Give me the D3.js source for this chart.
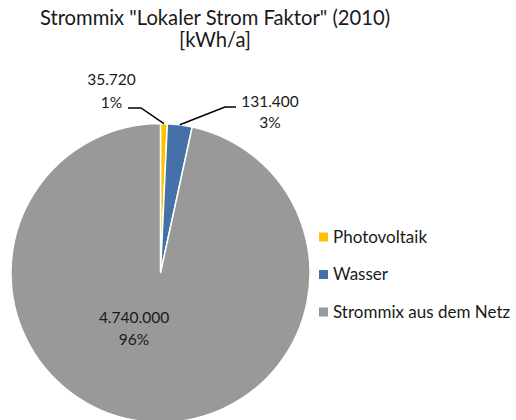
<!DOCTYPE html>
<html>
<head>
<meta charset="utf-8">
<script src="https://cdn.jsdelivr.net/npm/d3@7"></script>
<style>
  body { margin: 0; background: #fff; }
  text { font-family: Lato, "Open Sans", sans-serif; fill: #1a1a1a; }
</style>
</head>
<body>
<svg id="chart" width="516" height="420"></svg>
<script>
const categories = ["Photovoltaik", "Wasser", "Strommix aus dem Netz"];
const values = [35720, 131400, 4740000];
const valueLabels = ["35.720", "131.400", "4.740.000"];
const percentLabels = ["1%", "3%", "96%"];
const colors = ["#FFC000", "#4472A8", "#999999"];

const svg = d3.select("#chart");
const cx = 160.5, cy = 273, r = 149.5;

// title
const title = svg.append("text").attr("text-anchor", "middle").style("font-size", "20.2px");
title.append("tspan").attr("x", 215).attr("y", 25).text('Strommix "Lokaler Strom Faktor" (2010)');
title.append("tspan").attr("x", 215).attr("y", 47).text("[kWh/a]");

const pie = d3.pie().sort(null).value(d => d)(values);
const arc = d3.arc().innerRadius(0).outerRadius(r);

const g = svg.append("g").attr("transform", `translate(${cx},${cy})`);
g.selectAll("path")
  .data(pie)
  .join("path")
  .attr("d", arc)
  .attr("fill", (d, i) => colors[i])
  .attr("stroke", "#fff")
  .attr("stroke-width", 1.5);

// labels with leader lines
const labelPos = [
  { x: 111.5, y: 85, dy: 23, line: [[128, 108], [141, 108]] },
  { x: 270, y: 107, dy: 21, line: [[236, 107], [225, 107]] },
  { x: 134, y: 323, dy: 22 }
];

pie.forEach((d, i) => {
  const p = labelPos[i];
  const t = svg.append("text").attr("text-anchor", "middle").style("font-size", "15.5px");
  t.append("tspan").attr("x", p.x).attr("y", p.y).text(valueLabels[i]);
  t.append("tspan").attr("x", p.x).attr("y", p.y + p.dy).text(percentLabels[i]);
  if (p.line) {
    const mid = (d.startAngle + d.endAngle) / 2;
    const edge = [cx + Math.sin(mid) * r, cy - Math.cos(mid) * r];
    svg.append("path")
      .attr("d", d3.line()([...p.line, edge]))
      .attr("fill", "none")
      .attr("stroke", "#000")
      .attr("stroke-width", 1.5);
  }
});

// legend
const legend = svg.append("g").selectAll("g")
  .data(categories)
  .join("g")
  .attr("transform", (d, i) => `translate(319,${237 + i * 37.5})`);
legend.append("rect")
  .attr("x", 0).attr("y", -4.5)
  .attr("width", 9).attr("height", 9)
  .attr("fill", (d, i) => colors[i]);
legend.append("text")
  .attr("x", 14).attr("y", 5.5)
  .style("font-size", "17px")
  .text(d => d);
</script>
</body>
</html>
